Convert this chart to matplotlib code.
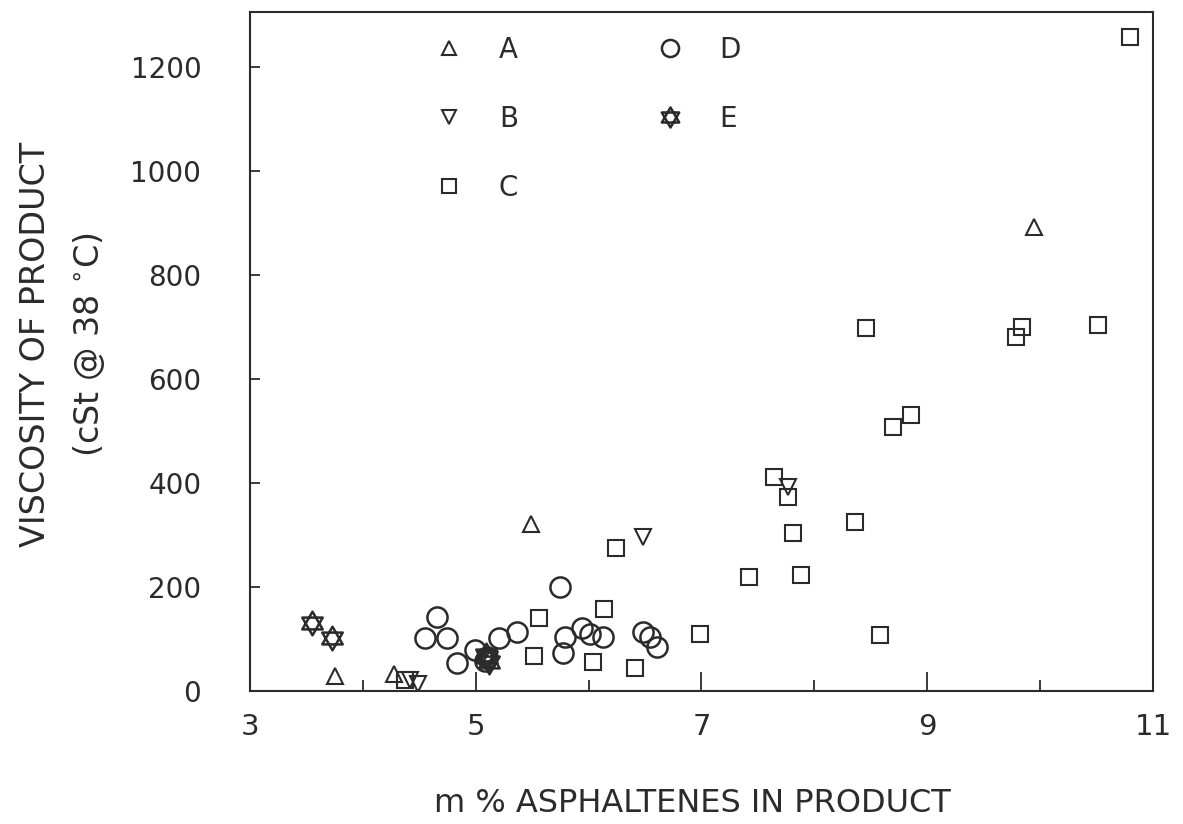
import matplotlib
matplotlib.use("Agg")
import matplotlib.pyplot as plt
from matplotlib.path import Path
from matplotlib.ticker import FixedLocator

# ---- data ----
a_x = [9.95, 5.49, 3.75, 4.28]
a_y = [892, 321, 29, 33]

b_x = [6.48, 7.77, 4.42, 4.49]
b_y = [296, 392, 21, 13]

c_x = [10.80, 8.46, 10.51, 9.84, 9.79, 8.86, 8.70, 7.64, 7.77, 8.36, 7.81,
       7.42, 7.88, 8.58, 6.99, 6.24, 6.14, 5.56, 5.52, 6.04, 6.41, 4.37]
c_y = [1258, 698, 704, 700, 681, 531, 508, 412, 373, 325, 304,
       219, 223, 108, 110, 275, 158, 140, 67, 56, 44, 21]

d_x = [4.66, 4.55, 4.75, 4.83, 4.99, 5.21, 5.37, 5.75, 5.79, 5.77, 5.94,
       6.01, 6.13, 6.48, 6.54, 6.61, 5.10, 5.08]
d_y = [142, 102, 102, 54, 79, 102, 113, 200, 104, 73, 121,
       110, 104, 113, 104, 85, 65, 58]

e_x = [3.55, 3.73, 5.10, 5.12, 5.09]
e_y = [131, 102, 65, 56, 70]

series_labels = ["A", "B", "C", "D", "E"]

x_major = [3, 5, 7, 9, 11]
x_minor = [4, 6, 8, 10]
y_ticks = [0, 200, 400, 600, 800, 1000, 1200]

# ---- style ----
ink = "#2b2b2b"
plt.rcParams['font.family'] = ['DejaVu Sans']

# hexagram (star of David) marker
star = Path(
    [(0, 1), (-0.866, -0.5), (0.866, -0.5), (0, 1),
     (0, -1), (-0.866, 0.5), (0.866, 0.5), (0, -1)],
    [Path.MOVETO, Path.LINETO, Path.LINETO, Path.CLOSEPOLY,
     Path.MOVETO, Path.LINETO, Path.LINETO, Path.CLOSEPOLY])

fig = plt.figure(figsize=(11.83, 8.24), dpi=100)
ax = fig.add_axes([0.2113, 0.1614, 0.7633, 0.8240])

common = dict(linestyle="none", markerfacecolor="none",
              markeredgecolor=ink, markeredgewidth=1.5)
ax.plot(a_x, a_y, marker="^", markersize=12, label=series_labels[0], **common)
ax.plot(b_x, b_y, marker="v", markersize=12, label=series_labels[1], **common)
ax.plot(c_x, c_y, marker="s", markersize=12, label=series_labels[2], **common)
ax.plot(d_x, d_y, marker="o", markersize=14.5, label=series_labels[3],
        **{**common, "markeredgewidth": 1.8})
ax.plot(e_x, e_y, marker=star, markersize=17, label=series_labels[4],
        **{**common, "markeredgewidth": 1.8})

ax.set_xlim(3, 11)
ax.set_ylim(0, 1306)

ax.xaxis.set_major_locator(FixedLocator(x_major))
ax.xaxis.set_minor_locator(FixedLocator(x_minor))
ax.set_xticklabels([str(v) for v in x_major])
ax.yaxis.set_major_locator(FixedLocator(y_ticks))
ax.set_yticklabels([str(v) for v in y_ticks])

ax.tick_params(axis="x", which="major", direction="in", length=14, width=1.3,
               color=ink, labelsize=21, labelcolor=ink, pad=16)
ax.tick_params(axis="x", which="minor", direction="in", length=8, width=1.3,
               color=ink)
ax.tick_params(axis="y", which="major", direction="in", length=7, width=1.3,
               color=ink, labelsize=20, labelcolor=ink, pad=35)

for s in ax.spines.values():
    s.set_color(ink)
    s.set_linewidth(1.5)

ax.set_xlabel("m % ASPHALTENES IN PRODUCT", fontsize=23, color=ink)
ax.xaxis.set_label_coords(0.4895, -0.143)
ax.set_ylabel("VISCOSITY OF PRODUCT\n(cSt @ 38 $^{\\circ}$C)", fontsize=24,
              color=ink, linespacing=1.7)
ax.yaxis.set_label_coords(-0.158, 0.51)

leg = ax.legend(loc="upper left", bbox_to_anchor=(0.205, 0.965), ncol=2,
                frameon=False, fontsize=20, markerscale=0.85,
                handlelength=1.0, handletextpad=1.3, labelspacing=1.48,
                columnspacing=4.95, borderpad=0, borderaxespad=0)
for t in leg.get_texts():
    t.set_color(ink)

fig.savefig("out.png", dpi=100)
